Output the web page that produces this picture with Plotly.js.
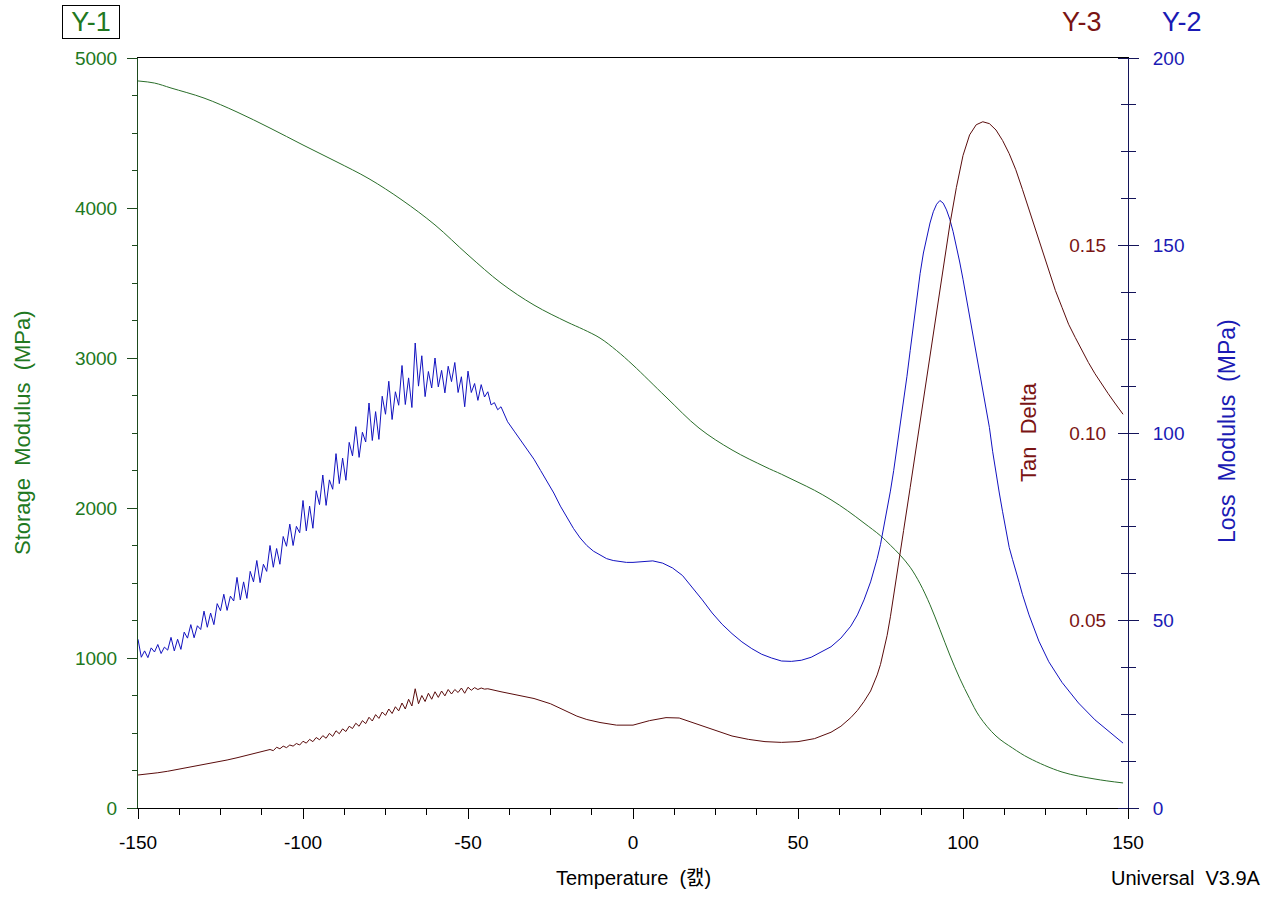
<!DOCTYPE html>
<html>
<head>
<meta charset="utf-8">
<script src="https://cdn.plot.ly/plotly-3.0.1.min.js"></script>
<style>
  body { margin: 0; background: #fff; }
  #chart { width: 1271px; height: 902px; }
</style>
</head>
<body>
<div id="chart"></div>
<script>
// Storage modulus (MPa), left axis
var storageT = [-150, -145, -140, -130, -120, -110, -100, -90, -80, -70, -60, -50, -40, -30, -20, -15, -10, -5,
  0, 10, 20, 30, 40, 45, 50, 55, 60, 65, 70, 75, 78, 81, 84, 87, 90, 93, 96, 99, 102, 105, 110, 115, 120,
  130, 140, 148.5];
var storageVal = [4847, 4833, 4800, 4733, 4640, 4533, 4420, 4310, 4195, 4053, 3887, 3687, 3500, 3353, 3240, 3190, 3133, 3050,
  2953, 2740, 2533, 2387, 2275, 2225, 2172, 2118, 2055, 1982, 1900, 1815, 1752, 1685, 1605, 1495, 1355, 1190, 1020, 865, 730, 610, 480, 400, 333,
  240, 193, 167];

// Loss modulus (MPa), right axis
var lossT = [-150, -149, -148, -147, -146, -145, -144, -143, -142, -141, -140, -139, -138, -137, -136, -135,
  -134, -133, -132, -131, -130, -129, -128, -127, -126, -125, -124, -123, -122, -121, -120, -119, -118, -117,
  -116, -115, -114, -113, -112, -111, -110, -109, -108, -107, -106, -105, -104, -103, -102, -101, -100, -99,
  -98, -97, -96, -95, -94, -93, -92, -91, -90, -89, -88, -87, -86, -85, -84, -83, -82, -81, -80, -79, -78,
  -77, -76, -75, -74, -73, -72, -71, -70, -69, -68, -67, -66, -65, -64, -63, -62, -61, -60, -59, -58, -57,
  -56, -55, -54, -53, -52, -51, -50, -49, -48, -47, -46, -45, -44, -43, -42, -41, -40,
  -38, -36, -34, -32, -30, -28, -26, -24, -22, -20, -18, -16, -14, -12, -10, -8, -6, -4, -2, 0,
  3, 6, 9, 12, 15, 18, 21, 24, 27, 30, 33, 36, 39, 42, 45, 48, 51, 54, 57, 60, 63, 66, 68, 70, 72, 73, 74, 75,
  76, 77, 78, 79, 80, 81, 82, 83, 84, 85, 86, 87, 88, 89, 90, 91, 92, 93, 94, 95, 96, 97, 98, 99, 100, 101, 102,
  103, 104, 105, 106, 107, 108, 109, 110, 111, 112, 113, 114, 115, 116, 117, 118, 119, 120,
  123, 126, 130, 135, 140, 145, 148.5];
var lossVal = [45, 40.2, 41.9, 40.1, 42.7, 41.6, 43.6, 41.2, 42.9, 42.1, 45.5, 41.9, 45, 42.3, 46.9, 45.3,
  48.9, 45.4, 48.6, 47.6, 52.5, 48.2, 52, 48.9, 54.5, 52.6, 57, 52.7, 56.5, 55.2, 61.5, 55.5, 60.3, 55.9,
  63.1, 60.3, 66, 60.1, 65, 63.1, 70, 64.2, 69.2, 65, 72.4, 69.8, 75.7, 70, 75.1, 73.4, 82, 73.9,
  80.5, 74.6, 84.6, 80.9, 88.8, 80.7, 87.5, 85, 94.5, 86.5, 93.3, 87.4, 97.5, 93.9, 101.7, 93.5, 100.2, 97.6, 108, 98, 105.7,
  98.3, 109.8, 105, 113.8, 103.6, 111, 107.4, 118, 107.6, 114.7, 106.8, 124, 112.5, 120.6, 109.7, 116.4, 112, 120, 112.3, 116.7, 110.7,
  117.8, 113.7, 118.8, 110.8, 115, 107, 116.5, 110.8, 113.2, 108.7, 112.9, 109.6, 111, 107.5, 108.1, 106.2, 107,
  103, 100.5, 98, 95.5, 93, 90, 87, 84, 80.5, 77.5, 74.5, 72, 70, 68.5, 67.5, 66.5, 66, 65.7, 65.5, 65.5,
  65.6, 65.9, 65.3, 64, 62, 58.8, 55.5, 52, 49, 46.5, 44.3, 42.5, 41, 40, 39.2, 39.1, 39.4, 40.2, 41.5, 43, 45.3, 48.5, 51.5, 55.5, 60.3, 63.2, 66.5, 70.3,
  75, 79.5, 84.5, 90, 96, 102, 108, 115, 122, 129, 136, 142.5, 148, 152.5, 156, 159, 161, 162, 161.3, 159.5, 157, 153.7, 150, 145.6, 141, 136, 131,
  126, 121, 116.5, 112, 107, 101.5, 95, 89, 84, 79, 74, 69.5, 66.3, 63.5, 60.2, 57, 54.2, 51.5,
  44.5, 39, 33.5, 28, 23.5, 19.8, 17.3];

// Tan delta, inner right axis
var tanT = [-150, -147, -144, -141, -138, -135, -132, -129, -126, -123, -120, -117, -114, -111,
  -110, -109, -108, -107, -106, -105, -104, -103, -102, -101, -100, -99, -98, -97, -96, -95, -94, -93,
  -92, -91, -90, -89, -88, -87, -86, -85, -84, -83, -82, -81, -80, -79, -78, -77, -76, -75, -74, -73,
  -72, -71, -70, -69, -68, -67, -66, -65, -64, -63, -62, -61, -60, -59, -58, -57, -56, -55, -54, -53,
  -52, -51, -50, -49, -48, -47, -46, -45, -44, -40, -35, -30, -25, -20, -17, -14, -10, -5, 0, 5, 10,
  14, 18, 22, 26, 30, 35, 40, 45, 50, 55, 60, 63, 66, 68, 70, 72, 73, 74, 75, 76, 77, 78, 79, 80, 82, 84, 86, 88, 90,
  92, 94, 96, 98, 100, 102, 104, 106, 108, 110, 112, 114, 116, 118, 120, 122, 124, 126, 128, 130, 132,
  134, 136, 138, 140, 142, 144, 146, 148.5];
var tanVal = [0.0088, 0.0090, 0.0094, 0.0098, 0.0103, 0.0107, 0.0112, 0.0118, 0.0123, 0.0128, 0.0134, 0.0140, 0.0146, 0.0153,
  0.0156, 0.0153, 0.0162, 0.0158, 0.0165, 0.0161, 0.0168, 0.0165, 0.0172, 0.0168, 0.0178, 0.0173, 0.0183, 0.0177, 0.0188, 0.0182, 0.0193, 0.0186,
  0.0199, 0.0191, 0.0206, 0.0198, 0.0211, 0.0204, 0.0218, 0.0212, 0.0226, 0.0218, 0.0233, 0.0225, 0.0242, 0.0232, 0.0249, 0.0239, 0.0256, 0.0247, 0.0264, 0.0252,
  0.0270, 0.0259, 0.0280, 0.0264, 0.0290, 0.0272, 0.0318, 0.0278, 0.0300, 0.0284, 0.0306, 0.0290, 0.0310, 0.0295, 0.0312, 0.0299, 0.0316, 0.0304, 0.0316, 0.0308,
  0.0320, 0.0306, 0.0322, 0.0314, 0.0321, 0.0316, 0.0320, 0.0317, 0.0318, 0.0310, 0.0302, 0.0292, 0.0278, 0.0257, 0.0245, 0.0236, 0.0228, 0.0221, 0.0221, 0.0233, 0.0241,
  0.0240, 0.0228, 0.0215, 0.0202, 0.0192, 0.0183, 0.0177, 0.0175, 0.0177, 0.0185, 0.0202, 0.0218, 0.0241, 0.0260, 0.0284, 0.0312, 0.0332, 0.0355, 0.0383, 0.0418, 0.0460, 0.0510, 0.0565, 0.0625, 0.0740, 0.0855, 0.0970, 0.1085, 0.1200,
  0.1320, 0.1440, 0.1555, 0.1655, 0.1740, 0.1795, 0.1822, 0.1830, 0.1825, 0.1808, 0.1780, 0.1745, 0.1702, 0.1650, 0.1595, 0.1540, 0.1485, 0.1432, 0.1380, 0.1335, 0.1290,
  0.1255, 0.1220, 0.1188, 0.1158, 0.1130, 0.1105, 0.1080, 0.1050];

// tick labels
var xTickVals = [-150, -100, -50, 0, 50, 100, 150];
var xTickText = ["-150", "-100", "-50", "0", "50", "100", "150"];
var tanTickVals = [0, 0.05, 0.10, 0.15, 0.20];
var tanTickText = ["", "0.05", "0.10", "0.15", ""];

var FONT = "Liberation Sans, Arial, Noto Sans CJK KR, sans-serif";
var GREEN = "#217821", BLUE = "#1a1ab4", RED = "#7a1414";

var traces = [
  {x: storageT, y: storageVal, type: "scatter", mode: "lines", yaxis: "y",
   line: {color: "#2a6e2a", width: 1, shape: "spline", smoothing: 1}},
  {x: lossT, y: lossVal, type: "scatter", mode: "lines", yaxis: "y2",
   line: {color: "#1212c0", width: 1}},
  {x: tanT, y: tanVal, type: "scatter", mode: "lines", yaxis: "y3",
   line: {color: "#5a0c0c", width: 1}}
];

var layout = {
  width: 1271, height: 902,
  margin: {l: 138, r: 143, t: 58, b: 94},
  paper_bgcolor: "#fff", plot_bgcolor: "#fff",
  showlegend: false,
  font: {family: FONT, size: 19, color: "#000"},
  xaxis: {
    range: [-150, 150], tickmode: "array", tickvals: xTickVals, ticktext: xTickText,
    showgrid: false, zeroline: false, showline: true, linecolor: "#000", linewidth: 1, mirror: true,
    ticks: "outside", ticklen: 10, tickcolor: "#000", ticklabelstandoff: 7,
    minor: {tickmode: "linear", tick0: 0, dtick: 12.5, ticks: "outside", ticklen: 6, tickcolor: "#000"},
    tickfont: {size: 19, color: "#000"}
  },
  yaxis: {
    range: [0, 5000], dtick: 1000, tick0: 0,
    showgrid: false, zeroline: false, showline: true, linecolor: "#1d4a1d", linewidth: 1,
    ticks: "outside", ticklen: 10, tickcolor: "#1d4a1d", ticklabelstandoff: 6,
    minor: {tickmode: "linear", tick0: 0, dtick: 250, ticks: "outside", ticklen: 5, tickcolor: "#1d4a1d"},
    tickfont: {size: 19, color: GREEN}
  },
  yaxis2: {
    range: [0, 200], dtick: 50, tick0: 0, overlaying: "y", side: "right", anchor: "x",
    showgrid: false, zeroline: false, showline: true, linecolor: "#14145a", linewidth: 1,
    ticks: "outside", ticklen: 10, tickcolor: "#14145a", ticklabelstandoff: 10,
    minor: {tickmode: "linear", tick0: 0, dtick: 12.5, ticks: "outside", ticklen: 7, tickcolor: "#14145a"},
    tickfont: {size: 19, color: BLUE}
  },
  // tan delta axis sits on the right edge but faces inwards
  yaxis3: {
    range: [0, 0.2], overlaying: "y", side: "left", anchor: "free", position: 1,
    tickmode: "array", tickvals: tanTickVals, ticktext: tanTickText, ticklabelstandoff: 8,
    showgrid: false, zeroline: false, showline: false,
    ticks: "outside", ticklen: 10, tickcolor: "#14145a",
    minor: {tickmode: "linear", tick0: 0, dtick: 0.0125, ticks: "outside", ticklen: 7, tickcolor: "#14145a"},
    tickfont: {size: 19, color: RED}
  },
  annotations: [
    {text: "Y-1", xref: "paper", yref: "paper", x: -0.0475, y: 1.048, xanchor: "center", yanchor: "middle",
     width: 50, height: 26, showarrow: false, font: {size: 27, color: GREEN},
     bordercolor: "#000", borderwidth: 1, borderpad: 3},
    {text: "Y-3", xref: "paper", yref: "paper", x: 0.9535, y: 1.048, xanchor: "center", yanchor: "middle",
     showarrow: false, font: {size: 27, color: RED}},
    {text: "Y-2", xref: "paper", yref: "paper", x: 1.0545, y: 1.048, xanchor: "center", yanchor: "middle",
     showarrow: false, font: {size: 27, color: BLUE}},
    {text: "Storage \u00a0Modulus \u00a0(MPa)", xref: "paper", yref: "paper", x: -0.1172, y: 0.5013,
     xanchor: "center", yanchor: "middle", textangle: -90, showarrow: false, font: {size: 22, color: GREEN}},
    {text: "Loss \u00a0Modulus \u00a0(MPa)", xref: "paper", yref: "paper", x: 1.1, y: 0.5027,
     xanchor: "center", yanchor: "middle", textangle: -90, showarrow: false, font: {size: 23, color: BLUE}},
    {text: "Tan \u00a0Delta", xref: "paper", yref: "paper", x: 0.899, y: 0.5013,
     xanchor: "center", yanchor: "middle", textangle: -90, showarrow: false, font: {size: 22, color: RED}},
    {text: "Temperature \u00a0(\uce9c)", xref: "paper", yref: "paper", x: 0.5, y: -0.0933,
     xanchor: "center", yanchor: "middle", showarrow: false, font: {size: 20, color: "#000"}},
    {text: "Universal \u00a0V3.9A", xref: "paper", yref: "paper", x: 1.0586, y: -0.0933,
     xanchor: "center", yanchor: "middle", showarrow: false, font: {size: 20, color: "#000"}}
  ]
};

Plotly.newPlot("chart", traces, layout, {displayModeBar: false, staticPlot: true});
</script>
</body>
</html>
